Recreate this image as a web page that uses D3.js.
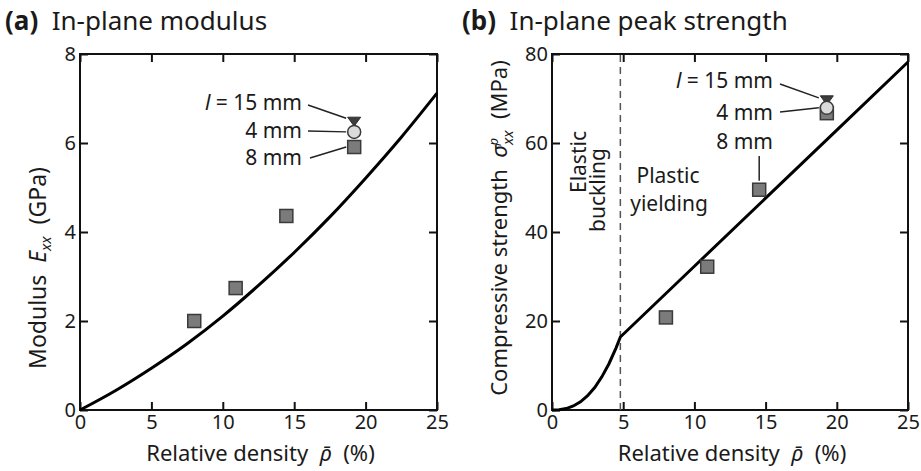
<!DOCTYPE html>
<html><head><meta charset="utf-8">
<script src="https://cdn.jsdelivr.net/npm/d3@7"></script>
<style>
body{margin:0;background:#fff}
text{font-family:"Noto Sans",sans-serif;fill:#1a1a1a}
</style>
</head><body>
<svg id="c" width="921" height="471"></svg>
<script>
// ---------- data ----------
const xTicks = [0, 5, 10, 15, 20, 25];
const yTicksA = [0, 2, 4, 6, 8];
const yTicksB = [0, 20, 40, 60, 80];

// (a) in-plane modulus
const curveDensityA = [0, 2.5, 5, 7.5, 10, 12.5, 15, 17.5, 20, 22.5, 25];
const curveModulusA = [0, 0.44, 0.94, 1.49, 2.11, 2.80, 3.54, 4.34, 5.21, 6.13, 7.12];
const squareDensityA = [8.0, 10.9, 14.45, 19.2];
const squareModulusA = [2.0, 2.74, 4.36, 5.91];   // l = 8 mm
const circleDensityA = [19.2];
const circleModulusA = [6.25];                    // l = 4 mm
const triDensityA = [19.2];
const triModulusA = [6.49];                       // l = 15 mm

// (b) in-plane peak strength
const curveDensityB = [0, 0.5, 1, 1.5, 2, 2.5, 3, 3.5, 4, 4.5, 4.8, 10, 15, 20, 25];
const curveStrengthB = [0, 0.06, 0.32, 0.90, 1.84, 3.21, 5.06, 7.45, 10.4, 13.96, 16.4, 32.3, 47.6, 62.9, 78.2];
const squareDensityB = [8.0, 10.9, 14.55, 19.3];
const squareStrengthB = [20.8, 32.2, 49.5, 66.7];
const circleDensityB = [19.3];
const circleStrengthB = [67.9];
const triDensityB = [19.3];
const triStrengthB = [69.7];
const bucklingDensity = 4.8;

// ---------- drawing ----------
const svg = d3.select("#c");
const plotTop = 54, plotBottom = 410;
const NB = "\u00A0";

function panel(left, right, yMax, yTicks) {
  const x = d3.scaleLinear().domain([0, 25]).range([left, right]);
  const y = d3.scaleLinear().domain([0, yMax]).range([plotBottom, plotTop]);
  const g = svg.append("g");
  const tl = 8;
  const ax = [
    g.append("g").attr("transform", `translate(0,${plotBottom})`).call(d3.axisBottom(x).tickValues(xTicks).tickSizeInner(-tl).tickSizeOuter(0).tickPadding(5)),
    g.append("g").attr("transform", `translate(0,${plotTop})`).call(d3.axisTop(x).tickValues(xTicks).tickSizeInner(-tl).tickSizeOuter(0).tickFormat("")),
    g.append("g").attr("transform", `translate(${left},0)`).call(d3.axisLeft(y).tickValues(yTicks).tickSizeInner(-tl).tickSizeOuter(0).tickPadding(4)),
    g.append("g").attr("transform", `translate(${right},0)`).call(d3.axisRight(y).tickValues(yTicks).tickSizeInner(-tl).tickSizeOuter(0).tickFormat(""))
  ];
  ax.forEach(a => {
    a.select(".domain").remove();
    a.selectAll("line").attr("stroke", "#111").attr("stroke-width", 2);
    a.selectAll("text").attr("font-size", 20).attr("fill", "#1a1a1a").attr("font-family", '"Noto Sans",sans-serif');
  });
  g.append("rect").attr("x", left).attr("y", plotTop).attr("width", right - left).attr("height", plotBottom - plotTop)
    .attr("fill", "none").attr("stroke", "#111").attr("stroke-width", 2);
  const xl = g.append("text").attr("x", (left + right) / 2 + 2).attr("y", 461).attr("text-anchor", "middle").attr("font-size", 22);
  xl.append("tspan").text("Relative density" + NB + NB);
  xl.append("tspan").attr("font-style", "italic").text("\u03C1\u0304");
  xl.append("tspan").text(NB + NB + "(%)");
  return {x, y, g};
}

function markers(p, sqX, sqY, trX, trY, ciX, ciY) {
  const s = 13;
  p.g.selectAll(".tri").data(trX).join("path")
    .attr("d", (d, i) => {
      const cx = p.x(d), cy = p.y(trY[i]);
      return `M${cx - 6.5},${cy - 4}L${cx + 6.5},${cy - 4}L${cx},${cy + 5}Z`;
    })
    .attr("fill", "#3d3d3d").attr("stroke", "#2a2a2a").attr("stroke-width", 1);
  p.g.selectAll(".sq").data(sqX).join("rect")
    .attr("x", d => p.x(d) - s / 2).attr("y", (d, i) => p.y(sqY[i]) - s / 2)
    .attr("width", s).attr("height", s)
    .attr("fill", "#7b7b7b").attr("stroke", "#3a3a3a").attr("stroke-width", 1.5);
  p.g.selectAll(".ci").data(ciX).join("circle")
    .attr("cx", d => p.x(d)).attr("cy", (d, i) => p.y(ciY[i])).attr("r", 6.5)
    .attr("fill", "#dadada").attr("stroke", "#3a3a3a").attr("stroke-width", 1.5);
}

function curve(p, xs, ys, c) {
  p.g.append("path").datum(xs.map((d, i) => [d, ys[i]]))
    .attr("d", d3.line().x(d => p.x(d[0])).y(d => p.y(d[1])).curve(c))
    .attr("fill", "none").attr("stroke", "#000").attr("stroke-width", 3);
}

function label(g, x, y, parts, anchor) {
  const t = g.append("text").attr("x", x).attr("y", y).attr("text-anchor", anchor || "end").attr("font-size", 21);
  parts.forEach(pt => t.append("tspan").attr("font-style", pt[1] ? "italic" : null).text(pt[0]));
  return t;
}
function leader(g, x1, y1, x2, y2) {
  g.append("line").attr("x1", x1).attr("y1", y1).attr("x2", x2).attr("y2", y2).attr("stroke", "#222").attr("stroke-width", 1.5);
}

// ----- panel (a)
const A = panel(80, 437, 8, yTicksA);
curve(A, curveDensityA, curveModulusA, d3.curveMonotoneX);
markers(A, squareDensityA, squareModulusA, triDensityA, triModulusA, circleDensityA, circleModulusA);
label(A.g, 302, 110, [["l", true], [" = 15 mm", false]]);
label(A.g, 302, 138, [["4 mm", false]]);
label(A.g, 302, 165, [["8 mm", false]]);
leader(A.g, 308, 105, A.x(triDensityA[0]) - 8, A.y(triModulusA[0]) - 3);
leader(A.g, 308, 131, A.x(circleDensityA[0]) - 8, A.y(circleModulusA[0]));
leader(A.g, 310, 158, A.x(squareDensityA[3]) - 8, A.y(squareModulusA[3]));
const tA = svg.append("text").attr("x", 5).attr("y", 30).attr("font-size", 26);
tA.append("tspan").attr("font-weight", "bold").text("(a)");
tA.append("tspan").text(NB + NB + "In-plane modulus");
const yla = svg.append("text").attr("transform", "translate(46,268) rotate(-90)").attr("text-anchor", "middle").attr("font-size", 23);
yla.append("tspan").text("Modulus" + NB + NB);
yla.append("tspan").attr("font-style", "italic").text("E");
yla.append("tspan").attr("font-style", "italic").attr("font-size", 15).attr("dy", 5).text("xx");
yla.append("tspan").attr("dy", -5).text(NB + NB + "(GPa)");

// ----- panel (b)
const B = panel(552, 908, 80, yTicksB);
B.g.append("line").attr("x1", B.x(bucklingDensity)).attr("x2", B.x(bucklingDensity))
  .attr("y1", B.y(0)).attr("y2", B.y(80)).attr("stroke", "#555").attr("stroke-width", 1.5).attr("stroke-dasharray", "7,5");
curve(B, curveDensityB, curveStrengthB, d3.curveLinear);
markers(B, squareDensityB, squareStrengthB, triDensityB, triStrengthB, circleDensityB, circleStrengthB);
label(B.g, 773, 88, [["l", true], [" = 15 mm", false]]);
label(B.g, 773, 120, [["4 mm", false]]);
label(B.g, 773, 149, [["8 mm", false]]);
leader(B.g, 780, 84, B.x(triDensityB[0]) - 8, B.y(triStrengthB[0]) - 2);
leader(B.g, 780, 112, B.x(circleDensityB[0]) - 8, B.y(circleStrengthB[0]));
leader(B.g, B.x(squareDensityB[2]), 156, B.x(squareDensityB[2]), B.y(squareStrengthB[2]) - 9);
label(B.g, 668, 183, [["Plastic", false]], "middle");
label(B.g, 669, 211, [["yielding", false]], "middle");
svg.append("text").attr("transform", "translate(586,162) rotate(-90)").attr("text-anchor", "middle").attr("font-size", 21).text("Elastic");
svg.append("text").attr("transform", "translate(605,190) rotate(-90)").attr("text-anchor", "middle").attr("font-size", 21).text("buckling");
const tB = svg.append("text").attr("x", 462).attr("y", 30).attr("font-size", 26);
tB.append("tspan").attr("font-weight", "bold").text("(b)");
tB.append("tspan").text(NB + NB + "In-plane peak strength");
const ylb = svg.append("text").attr("transform", "translate(507,228) rotate(-90)").attr("text-anchor", "middle").attr("font-size", 22);
ylb.append("tspan").text("Compressive strength" + NB + NB);
ylb.append("tspan").attr("font-style", "italic").text("\u03C3");
ylb.append("tspan").attr("font-style", "italic").attr("font-size", 13).attr("dy", -9).text("p");
ylb.append("tspan").attr("font-style", "italic").attr("font-size", 15).attr("dx", -7).attr("dy", 15).text("xx");
ylb.append("tspan").attr("dy", -6).text(NB + NB + "(MPa)");
</script>
</body></html>
